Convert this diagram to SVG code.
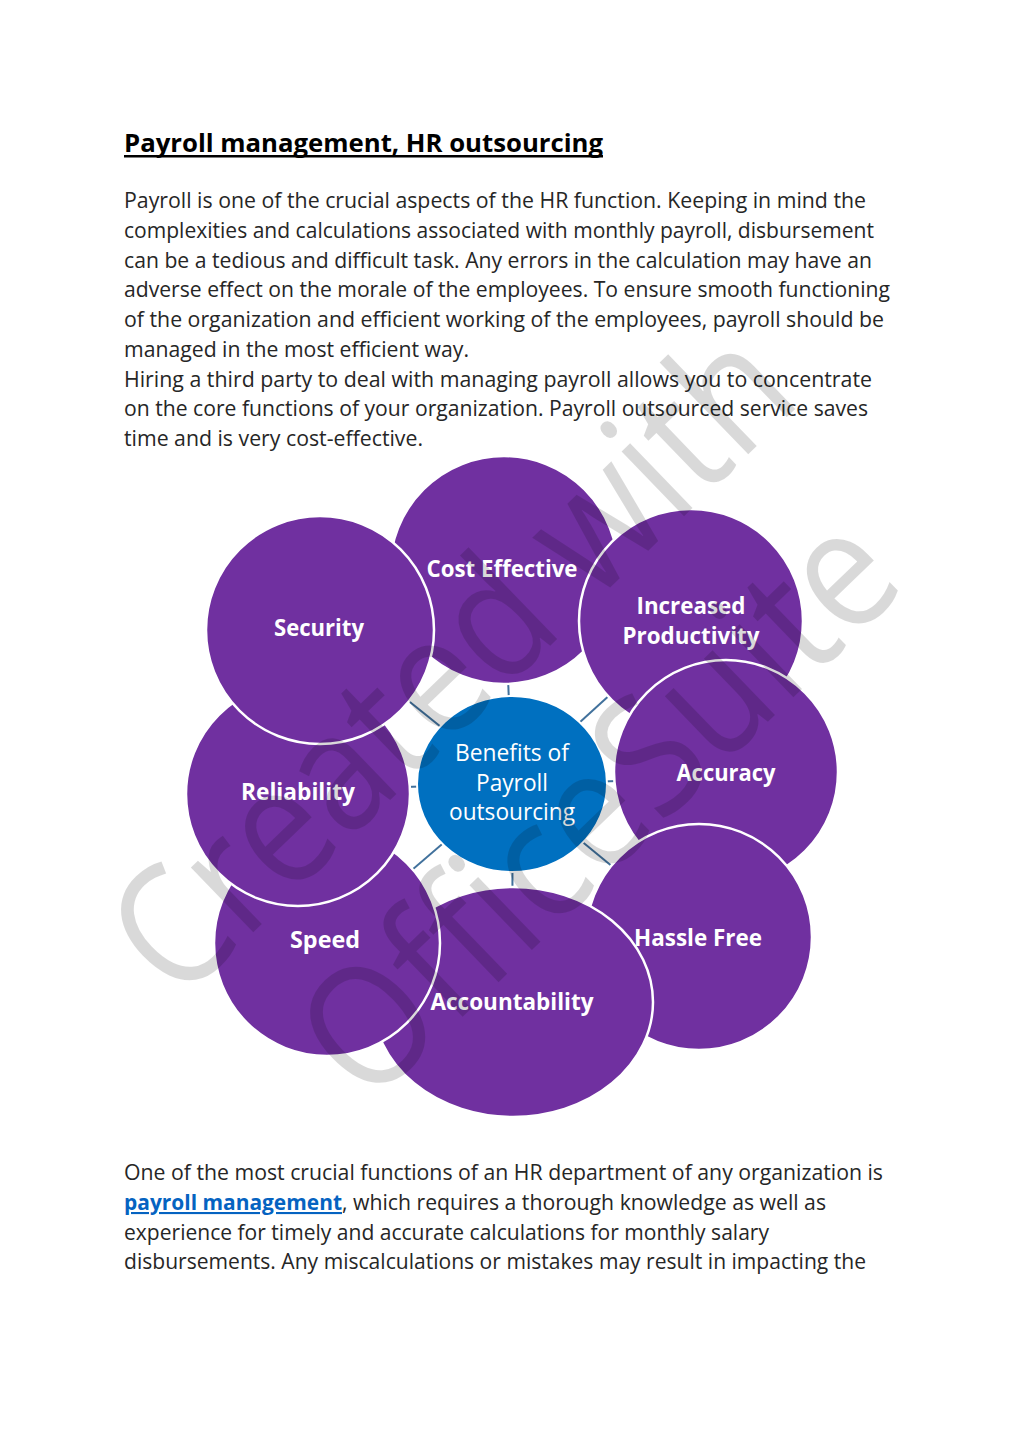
<svg xmlns="http://www.w3.org/2000/svg" width="1024" height="1449" viewBox="0 0 1024 1449">
<style>
.body{font-family:"Open Sans","Noto Sans",sans-serif;font-size:21px;fill:#262626}
.title{font-family:"Open Sans","Noto Sans",sans-serif;font-size:25px;font-weight:bold;fill:#000}
.bubble{fill:#7030A0;stroke:#fff;stroke-width:2.5}
.hub{fill:#0070C0;stroke:#fff;stroke-width:2}
.lbl{font-family:"Open Sans","Noto Sans",sans-serif;font-size:23px;font-weight:bold;fill:#fff;text-anchor:middle}
.hubt{font-family:"Open Sans","Noto Sans",sans-serif;font-size:23px;fill:#fff;text-anchor:middle}
.conn{stroke:#41719C;stroke-width:2}
.wm{font-family:"Open Sans","Noto Sans",sans-serif;font-weight:400;font-size:168px;fill:#000;fill-opacity:0.15}
</style>
<rect width="1024" height="1449" fill="#fff"/>

<g id="title">
<text class="title" x="124" y="152" textLength="479" lengthAdjust="spacingAndGlyphs">Payroll management, HR outsourcing</text>
<rect x="124" y="155" width="479" height="2.5" fill="#000"/>
</g>

<g id="intro">
<text class="body" x="124" y="208" textLength="742" lengthAdjust="spacingAndGlyphs">Payroll is one of the crucial aspects of the HR function. Keeping in mind the</text>
<text class="body" x="124" y="238" textLength="750" lengthAdjust="spacingAndGlyphs">complexities and calculations associated with monthly payroll, disbursement</text>
<text class="body" x="124" y="268" textLength="748" lengthAdjust="spacingAndGlyphs">can be a tedious and difficult task. Any errors in the calculation may have an</text>
<text class="body" x="124" y="297" textLength="766" lengthAdjust="spacingAndGlyphs">adverse effect on the morale of the employees. To ensure smooth functioning</text>
<text class="body" x="124" y="327" textLength="760" lengthAdjust="spacingAndGlyphs">of the organization and efficient working of the employees, payroll should be</text>
<text class="body" x="124" y="357" textLength="345" lengthAdjust="spacingAndGlyphs">managed in the most efficient way.</text>
<text class="body" x="124" y="387" textLength="748" lengthAdjust="spacingAndGlyphs">Hiring a third party to deal with managing payroll allows you to concentrate</text>
<text class="body" x="124" y="416" textLength="744" lengthAdjust="spacingAndGlyphs">on the core functions of your organization. Payroll outsourced service saves</text>
<text class="body" x="124" y="446" textLength="299" lengthAdjust="spacingAndGlyphs">time and is very cost-effective.</text>
</g>

<g id="connectors">
<line class="conn" x1="512" y1="784" x2="504" y2="570"/>
<line class="conn" x1="512" y1="784" x2="319" y2="629"/>
<line class="conn" x1="512" y1="784" x2="691" y2="621"/>
<line class="conn" x1="512" y1="784" x2="298" y2="790"/>
<line class="conn" x1="512" y1="784" x2="726" y2="778"/>
<line class="conn" x1="512" y1="784" x2="327" y2="943"/>
<line class="conn" x1="512" y1="784" x2="698" y2="937"/>
<line class="conn" x1="512" y1="784" x2="513" y2="1002"/>
</g>

<g id="node-cost-effective">
<circle class="bubble" cx="504" cy="570" r="114"/>
<text class="lbl" x="502" y="577" textLength="151" lengthAdjust="spacingAndGlyphs">Cost Effective</text>
</g>
<g id="node-increased-productivity">
<circle class="bubble" cx="691" cy="621" r="112"/>
<text class="lbl" x="691" y="614" textLength="109" lengthAdjust="spacingAndGlyphs">Increased</text>
<text class="lbl" x="691" y="644" textLength="137" lengthAdjust="spacingAndGlyphs">Productivity</text>
</g>
<g id="node-accuracy">
<circle class="bubble" cx="726" cy="772" r="112"/>
<text class="lbl" x="726" y="781" textLength="99" lengthAdjust="spacingAndGlyphs">Accuracy</text>
</g>
<g id="node-hassle-free">
<circle class="bubble" cx="699" cy="937" r="113"/>
<text class="lbl" x="698" y="946" textLength="128" lengthAdjust="spacingAndGlyphs">Hassle Free</text>
</g>
<g id="node-accountability">
<ellipse class="bubble" cx="513" cy="1002" rx="140" ry="115"/>
<text class="lbl" x="512" y="1010" textLength="163" lengthAdjust="spacingAndGlyphs">Accountability</text>
</g>
<g id="node-speed">
<circle class="bubble" cx="327" cy="943" r="113"/>
<text class="lbl" x="325" y="948" textLength="70" lengthAdjust="spacingAndGlyphs">Speed</text>
</g>
<g id="node-reliability">
<circle class="bubble" cx="298" cy="794" r="112"/>
<text class="lbl" x="298" y="800" textLength="114" lengthAdjust="spacingAndGlyphs">Reliability</text>
</g>
<g id="node-security">
<circle class="bubble" cx="320" cy="630" r="114"/>
<text class="lbl" x="319" y="636" textLength="90" lengthAdjust="spacingAndGlyphs">Security</text>
</g>
<g id="node-center">
<ellipse class="hub" cx="512" cy="784" rx="95" ry="88"/>
<text class="hubt" x="512" y="761" textLength="114" lengthAdjust="spacingAndGlyphs">Benefits of</text>
<text class="hubt" x="512" y="791" textLength="72" lengthAdjust="spacingAndGlyphs">Payroll</text>
<text class="hubt" x="512" y="820" textLength="126" lengthAdjust="spacingAndGlyphs">outsourcing</text>
</g>

<g id="outro">
<text class="body" x="124" y="1180" textLength="759" lengthAdjust="spacingAndGlyphs">One of the most crucial functions of an HR department of any organization is</text>
<text class="body" x="124" y="1210"><tspan font-weight="bold" fill="#0563C1" text-decoration="underline" textLength="218" lengthAdjust="spacingAndGlyphs">payroll management</tspan><tspan textLength="484" lengthAdjust="spacingAndGlyphs">, which requires a thorough knowledge as well as</tspan></text>
<text class="body" x="124" y="1240" textLength="645" lengthAdjust="spacingAndGlyphs">experience for timely and accurate calculations for monthly salary</text>
<text class="body" x="124" y="1269" textLength="742" lengthAdjust="spacingAndGlyphs">disbursements. Any miscalculations or mistakes may result in impacting the</text>
</g>

<g id="watermark">
<text class="wm" x="178" y="1005" transform="rotate(-44 178 1005)" textLength="870" lengthAdjust="spacingAndGlyphs">Created with</text>
<text class="wm" x="368" y="1108" transform="rotate(-44 368 1108)" textLength="752" lengthAdjust="spacingAndGlyphs">OfficeSuite</text>
</g>
</svg>
